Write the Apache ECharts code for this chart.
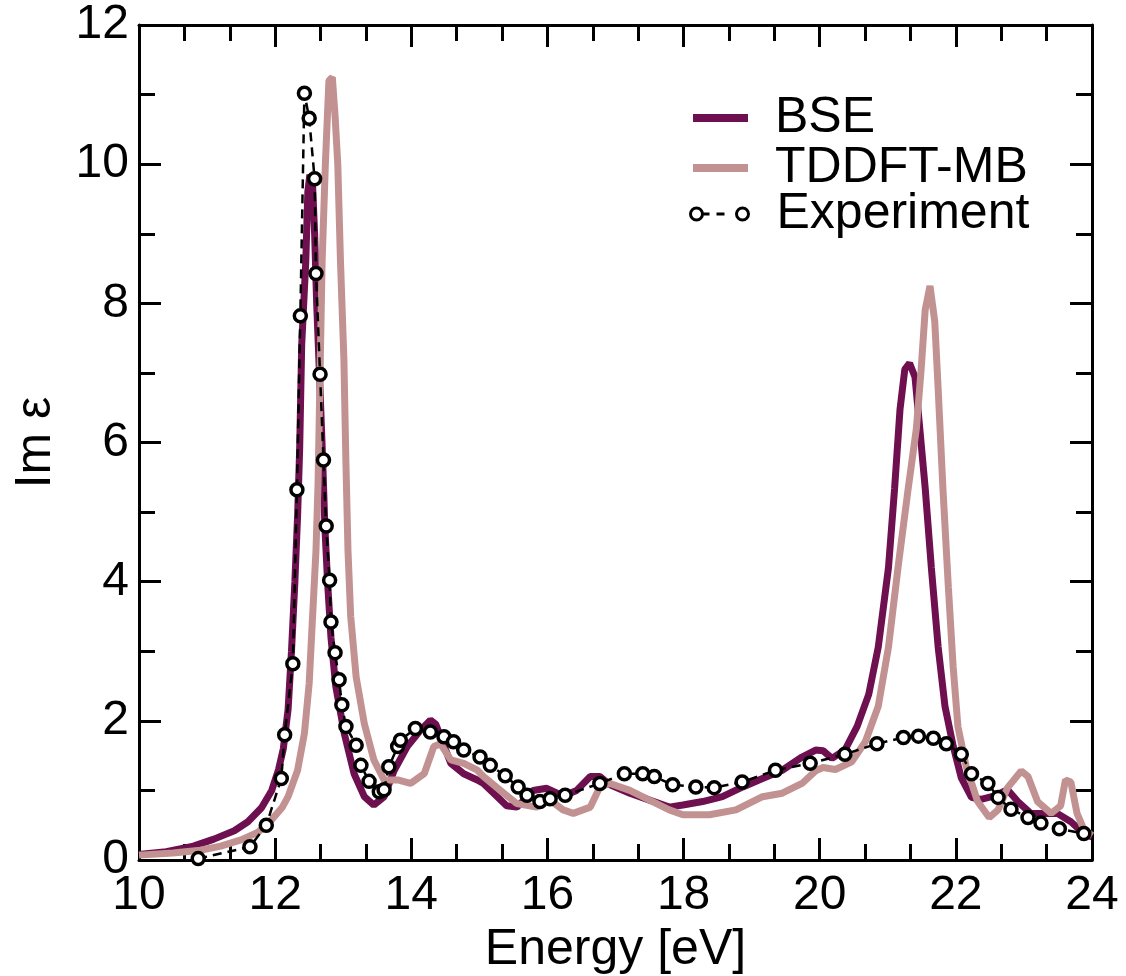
<!DOCTYPE html>
<html>
<head>
<meta charset="utf-8">
<script src="https://cdn.jsdelivr.net/npm/echarts@6.0.0/dist/echarts.min.js"></script>
<style>
html,body{margin:0;padding:0;background:#fff;}
#chart{width:1126px;height:976px;}
</style>
</head>
<body>
<div id="chart"></div>
<script>
// ---- data ----
const xTicks = [10, 12, 14, 16, 18, 20, 22, 24];
const yTicks = [0, 2, 4, 6, 8, 10, 12];

const bseE = [10.0,10.4,10.8,11.1,11.4,11.6,11.8,11.95,12.05,12.12,12.19,12.24,12.29,12.33,12.36,12.39,12.45,12.48,12.51,12.55,12.58,12.61,12.65,12.70,12.73,12.77,12.82,12.89,13.02,13.16,13.31,13.45,13.60,13.75,13.94,14.14,14.28,14.36,14.45,14.58,14.77,14.97,15.06,15.21,15.40,15.55,15.70,15.79,15.99,16.23,16.43,16.63,16.77,16.92,17.21,17.50,17.79,17.99,18.28,18.57,18.87,19.16,19.45,19.74,19.94,20.05,20.18,20.37,20.55,20.72,20.86,21.01,21.10,21.18,21.25,21.32,21.40,21.47,21.55,21.64,21.74,21.84,21.96,22.08,22.23,22.37,22.57,22.76,22.91,23.10,23.30,23.49,23.69,23.88,24.0];
const bseIm = [0.08,0.12,0.20,0.30,0.42,0.55,0.75,1.00,1.30,1.60,2.16,3.00,4.00,4.95,5.90,7.40,8.60,9.60,9.85,9.70,9.00,8.00,7.00,5.70,4.80,4.00,3.20,2.50,1.80,1.24,0.91,0.79,0.91,1.29,1.63,1.87,2.01,1.95,1.72,1.39,1.24,1.15,1.10,0.96,0.78,0.76,0.90,1.00,1.03,0.92,1.00,1.20,1.20,1.08,0.96,0.86,0.76,0.79,0.84,0.91,1.05,1.17,1.29,1.48,1.58,1.57,1.46,1.58,1.92,2.38,3.06,4.20,5.34,6.48,7.05,7.14,6.94,6.20,5.34,4.20,3.06,2.21,1.64,1.18,0.90,0.87,0.92,1.01,0.84,0.67,0.67,0.67,0.55,0.38,0.33];

const tdE = [10.0,10.5,10.9,11.2,11.5,11.75,11.94,12.10,12.19,12.33,12.43,12.50,12.55,12.60,12.63,12.66,12.69,12.74,12.79,12.84,12.88,12.92,12.96,13.01,13.04,13.07,13.11,13.19,13.31,13.45,13.60,13.80,13.99,14.19,14.33,14.43,14.58,14.77,14.97,15.06,15.31,15.55,15.84,16.04,16.23,16.38,16.63,16.77,16.92,17.21,17.50,17.79,17.99,18.38,18.77,19.16,19.45,19.74,19.94,20.05,20.23,20.47,20.67,20.86,21.01,21.15,21.30,21.42,21.49,21.55,21.62,21.69,21.74,21.81,21.89,21.96,22.03,22.15,22.32,22.49,22.62,22.76,22.96,23.06,23.20,23.40,23.54,23.61,23.69,23.78,23.88,24.0];
const tdIm = [0.07,0.10,0.14,0.20,0.29,0.40,0.57,0.75,0.91,1.29,1.82,2.54,3.50,4.45,5.40,7.00,8.60,10.06,11.20,11.25,10.70,10.00,8.60,7.20,5.70,4.45,3.50,2.63,1.96,1.44,1.15,1.15,1.10,1.24,1.63,1.67,1.44,1.39,1.29,1.20,1.00,0.81,0.76,0.86,0.72,0.67,0.76,1.05,1.10,1.00,0.86,0.72,0.65,0.65,0.72,0.91,0.96,1.10,1.28,1.33,1.30,1.41,1.70,2.21,3.06,4.20,5.34,6.20,7.05,7.91,8.25,7.74,6.77,5.34,3.92,2.78,1.92,1.35,0.84,0.61,0.72,1.04,1.28,1.20,0.84,0.67,0.78,1.15,1.12,0.67,0.44,0.35];

const expE = [10.87,11.63,11.87,12.09,12.14,12.26,12.32,12.37,12.43,12.50,12.58,12.60,12.66,12.71,12.75,12.80,12.82,12.88,12.94,12.98,13.04,13.19,13.26,13.38,13.53,13.60,13.67,13.80,13.84,14.06,14.28,14.48,14.62,14.77,15.01,15.16,15.38,15.57,15.70,15.89,16.04,16.26,16.77,17.13,17.40,17.57,17.84,18.18,18.45,18.86,19.35,19.86,20.37,20.84,21.23,21.45,21.67,21.86,22.08,22.23,22.47,22.62,22.81,23.06,23.25,23.52,23.88];
const expIm = [0.02,0.19,0.50,1.17,1.80,2.82,5.32,7.82,11.02,10.66,9.79,8.43,6.98,5.75,4.80,4.02,3.42,2.98,2.59,2.23,1.92,1.65,1.36,1.13,0.98,1.01,1.34,1.63,1.72,1.89,1.84,1.77,1.70,1.58,1.48,1.36,1.21,1.05,0.93,0.84,0.88,0.93,1.10,1.24,1.24,1.20,1.08,1.05,1.04,1.12,1.29,1.39,1.52,1.67,1.76,1.78,1.75,1.67,1.52,1.24,1.10,0.90,0.73,0.61,0.53,0.45,0.38];

const seriesNames = ['BSE', 'TDDFT-MB', 'Experiment'];
const colors = ['#6e0f4f', '#c29292', '#000000'];
const xTitle = 'Energy [eV]';
const yTitle = 'Im ε';

// ---- build ----
const zip = (a, b) => a.map((v, i) => [v, b[i]]);
const FONT = "'Liberation Sans', Arial, Helvetica, sans-serif";

function axisBase(extra) {
  return Object.assign({
    type: 'value',
    axisLine: { show: true, onZero: false, lineStyle: { color: '#000', width: 3 } },
    axisTick: { show: true, inside: true, length: 22, lineStyle: { color: '#000', width: 3 } },
    splitLine: { show: false },
    minorSplitLine: { show: false }
  }, extra);
}

const xCfg = { min: xTicks[0], max: xTicks[xTicks.length - 1], interval: xTicks[1] - xTicks[0] };
const yCfg = { min: yTicks[0], max: yTicks[yTicks.length - 1], interval: yTicks[1] - yTicks[0] };
const xMinor = { show: true, splitNumber: 3, length: 16, lineStyle: { color: '#000', width: 3 } };
const yMinor = { show: true, splitNumber: 2, length: 16, lineStyle: { color: '#000', width: 3 } };

const chart = echarts.init(document.getElementById('chart'), null, { renderer: 'canvas' });
chart.setOption({
  animation: false,
  backgroundColor: '#fff',
  textStyle: { fontFamily: FONT },
  grid: { left: 139, right: 34, top: 25, bottom: 116, containLabel: false, outerBoundsMode: 'none' },
  xAxis: [
    axisBase(Object.assign({}, xCfg, {
      position: 'bottom', minorTick: xMinor,
      axisLabel: { show: true, color: '#000', fontSize: 48, fontFamily: FONT, margin: 12 },
      name: xTitle, nameLocation: 'middle', nameGap: 57,
      nameTextStyle: { color: '#000', fontSize: 50, fontFamily: FONT }
    })),
    axisBase(Object.assign({}, xCfg, {
      position: 'top', minorTick: xMinor, axisLabel: { show: false }
    }))
  ],
  yAxis: [
    axisBase(Object.assign({}, yCfg, {
      position: 'left', minorTick: yMinor,
      axisLabel: { show: true, color: '#000', fontSize: 48, fontFamily: FONT, margin: 10 },
      name: yTitle, nameLocation: 'middle', nameGap: 78, nameRotate: 90,
      nameTextStyle: { color: '#000', fontSize: 50, fontFamily: FONT }
    })),
    axisBase(Object.assign({}, yCfg, {
      position: 'right', minorTick: yMinor, axisLabel: { show: false }
    }))
  ],
  legend: [
    {
      data: [seriesNames[0], seriesNames[1]],
      orient: 'vertical', left: 693, top: 93, padding: 0,
      icon: 'rect', itemWidth: 55, itemHeight: 8, itemGap: 0,
      selectedMode: false,
      textStyle: { color: '#000', fontSize: 50, fontFamily: FONT, lineHeight: 48, padding: [0, 0, 0, 22] }
    },
    {
      data: [seriesNames[2]],
      orient: 'vertical', left: 689, top: 189, padding: 0,
      icon: 'path://M0 6A6 6 0 1 0 12 6A6 6 0 1 0 0 6ZM12 6L19 6M26 6L34 6M46 6A6 6 0 1 0 58 6A6 6 0 1 0 46 6Z',
      itemWidth: 58, itemHeight: 12, itemGap: 0,
      selectedMode: false,
      itemStyle: { color: '#fff', borderColor: '#000', borderWidth: 3 },
      textStyle: { color: '#000', fontSize: 50, fontFamily: FONT, lineHeight: 48, padding: [0, 0, 0, 23] }
    }
  ],
  series: [
    {
      name: seriesNames[0], type: 'line', data: zip(bseE, bseIm),
      symbol: 'none', showSymbol: false, color: colors[0],
      lineStyle: { color: colors[0], width: 7 }, z: 2
    },
    {
      name: seriesNames[1], type: 'line', data: zip(tdE, tdIm),
      symbol: 'none', showSymbol: false, color: colors[1],
      lineStyle: { color: colors[1], width: 7 }, z: 3
    },
    {
      name: seriesNames[2], type: 'line', data: zip(expE, expIm),
      symbol: 'circle', symbolSize: 12, showSymbol: true, color: colors[2],
      itemStyle: { color: '#fff', borderColor: '#000', borderWidth: 3.5 },
      lineStyle: { color: '#000', width: 2.5, type: [9, 6] }, z: 4
    }
  ]
});
</script>
</body>
</html>
